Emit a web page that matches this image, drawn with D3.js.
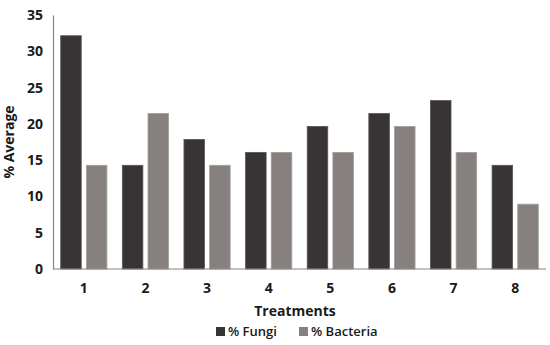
<!DOCTYPE html>
<html>
<head>
<meta charset="utf-8">
<script src="https://cdn.jsdelivr.net/npm/d3@7/dist/d3.min.js"></script>
<style>
  html, body { margin: 0; padding: 0; background: #fff; }
  svg text { font-family: "Open Sans", "DejaVu Sans", sans-serif; font-weight: bold; fill: #1a1a1a; }
</style>
</head>
<body>
<svg id="chart" width="550" height="345"></svg>
<script>
// Treatment categories and the share of each organism group per treatment
const treatments = ["1", "2", "3", "4", "5", "6", "7", "8"];
const fungi = [32.14, 14.29, 17.86, 16.07, 19.64, 21.43, 23.21, 14.29];
const bacteria = [14.29, 21.43, 14.29, 16.07, 16.07, 19.64, 16.07, 8.93];
const seriesNames = ["% Fungi", "% Bacteria"];
const yTicks = [0, 5, 10, 15, 20, 25, 30, 35];

const series = [fungi, bacteria];
const colors = ["#383435", "#86817f"];
const strokes = ["#5a5556", "#a29d9b"];

const svg = d3.select("#chart");
const plotL = 53, plotR = 546, plotT = 15, plotB = 269;

const x0 = d3.scaleBand().domain(treatments).range([plotL, plotR])
  .paddingInner(0.25).paddingOuter(0.125);
const x1 = d3.scaleBand().domain(d3.range(series.length)).range([0, x0.bandwidth()])
  .paddingInner(0.2).paddingOuter(0);
const y = d3.scaleLinear().domain([0, 35]).range([plotB, plotT]);

// Bars
const groups = svg.append("g").selectAll("g")
  .data(treatments)
  .join("g")
  .attr("transform", d => `translate(${x0(d)},0)`);

groups.selectAll("rect")
  .data((d, i) => series.map((s, k) => ({ k, v: s[i] })))
  .join("rect")
  .attr("x", d => x1(d.k))
  .attr("y", d => y(d.v))
  .attr("width", x1.bandwidth())
  .attr("height", d => y(0) - y(d.v))
  .attr("fill", d => colors[d.k])
  .attr("stroke", d => strokes[d.k])
  .attr("stroke-width", 0.8);

// Y axis
const yAxis = svg.append("g")
  .attr("transform", `translate(${plotL},0)`)
  .call(d3.axisLeft(y).tickValues(yTicks).tickSize(0).tickPadding(10));
yAxis.select(".domain").attr("stroke", "#8a8282").attr("stroke-width", 1.2);
yAxis.selectAll("text").style("font-size", "14px");

// X axis
const xAxis = svg.append("g")
  .attr("transform", `translate(0,${plotB})`)
  .call(d3.axisBottom(x0).tickSize(0).tickPadding(14));
xAxis.select(".domain").attr("stroke", "#8a8282").attr("stroke-width", 1.2)
  .attr("d", `M${plotL},0H${plotR}`);
xAxis.selectAll("text").style("font-size", "14px");

// Axis titles
svg.append("text")
  .attr("x", 295)
  .attr("y", 316)
  .attr("text-anchor", "middle")
  .style("font-size", "14px")
  .text("Treatments");

svg.append("text")
  .attr("transform", `translate(14,${(plotT + plotB) / 2}) rotate(-90)`)
  .attr("text-anchor", "middle")
  .style("font-size", "14px")
  .text("% Average");

// Legend
const legendX = [216, 299];
const legend = svg.append("g").selectAll("g")
  .data(seriesNames)
  .join("g")
  .attr("transform", (d, i) => `translate(${legendX[i]},336)`);
legend.append("rect")
  .attr("x", 0).attr("y", -9)
  .attr("width", 9).attr("height", 9)
  .attr("fill", (d, i) => colors[i]);
legend.append("text")
  .attr("x", 12).attr("y", 0)
  .style("font-size", "13px")
  .style("font-weight", "600")
  .text(d => d);
</script>
</body>
</html>
